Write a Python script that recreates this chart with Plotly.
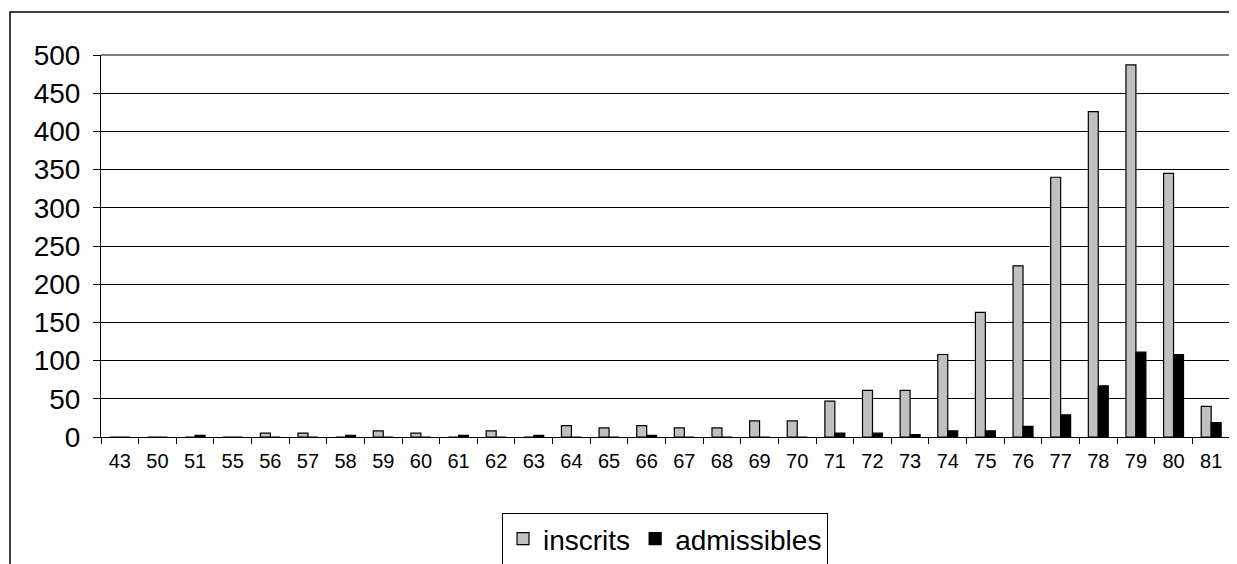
import plotly.graph_objects as go

categories = ["43", "50", "51", "55", "56", "57", "58", "59", "60", "61", "62", "63",
              "64", "65", "66", "67", "68", "69", "70", "71", "72", "73", "74", "75",
              "76", "77", "78", "79", "80", "81"]
inscrits = [0, 0, 0, 0, 5, 5, 0, 8, 5, 0, 8, 0,
            15, 12, 15, 12, 12, 21, 21, 47, 61, 61, 108, 163,
            224, 340, 426, 487, 345, 40]
admissibles = [0, 0, 2, 0, 0, 0, 2, 0, 0, 2, 0, 2,
               0, 0, 2, 0, 0, 0, 0, 5, 5, 3, 8, 8,
               14, 29, 67, 111, 108, 19]
y_ticks = [0, 50, 100, 150, 200, 250, 300, 350, 400, 450, 500]

# page body has an 8px margin: figure is placed at (8, 8)
OFF = 8
W, H = 1237 - OFF, 564 - OFF
L, R, T, B = 101 - OFF, 7, 55 - OFF, 127
pw, ph = W - L - R, H - T - B


def px(x):
    return (x - OFF - L) / pw


def py(y):
    return (H - B - (y - OFF)) / ph


fig = go.Figure()
fig.add_trace(go.Bar(x=categories, y=inscrits, name="inscrits",
                     marker=dict(color="#C0C0C0", line=dict(color="black", width=1.2))))
fig.add_trace(go.Bar(x=categories, y=admissibles, name="admissibles",
                     marker=dict(color="black", line=dict(color="black", width=1.2))))

fig.update_layout(
    template="none",
    width=W, height=H,
    margin=dict(l=L, r=R, t=T, b=B, pad=0, autoexpand=False),
    paper_bgcolor="white", plot_bgcolor="white",
    font=dict(family="Liberation Sans, Arial", color="black"),
    barmode="group", bargap=0.47, bargroupgap=0,
    showlegend=True,
    legend=dict(orientation="h", x=px(665), xanchor="center", y=py(513), yanchor="top",
                bordercolor="black", borderwidth=1, bgcolor="white",
                font=dict(size=28, color="black"),
                itemwidth=30, tracegroupgap=0),
    xaxis=dict(type="category", tickson="boundaries", ticks="outside", ticklen=6,
               tickcolor="black", showline=True, linecolor="black", linewidth=1,
               showgrid=False, tickfont=dict(size=20), ticklabelstandoff=6,
               automargin=False),
    yaxis=dict(range=[0, 500], tickvals=y_ticks, ticks="outside", ticklen=7,
               tickcolor="black", showline=True, linecolor="black", linewidth=1,
               showgrid=True, gridcolor="black", gridwidth=1, zeroline=False,
               tickfont=dict(size=28), ticklabelstandoff=7, automargin=False),
    shapes=[
        dict(type="line", xref="paper", yref="paper", x0=0, x1=1, y0=1, y1=1,
             line=dict(color="#808080", width=2)),
        dict(type="line", xref="paper", yref="paper", x0=1, x1=1, y0=0, y1=1,
             line=dict(color="#808080", width=2)),
        dict(type="rect", xref="paper", yref="paper", x0=px(10), x1=px(1300),
             y0=py(700), y1=py(12), line=dict(color="black", width=1.5),
             fillcolor="rgba(0,0,0,0)", layer="below"),
    ],
)

fig.write_html("out.html")
